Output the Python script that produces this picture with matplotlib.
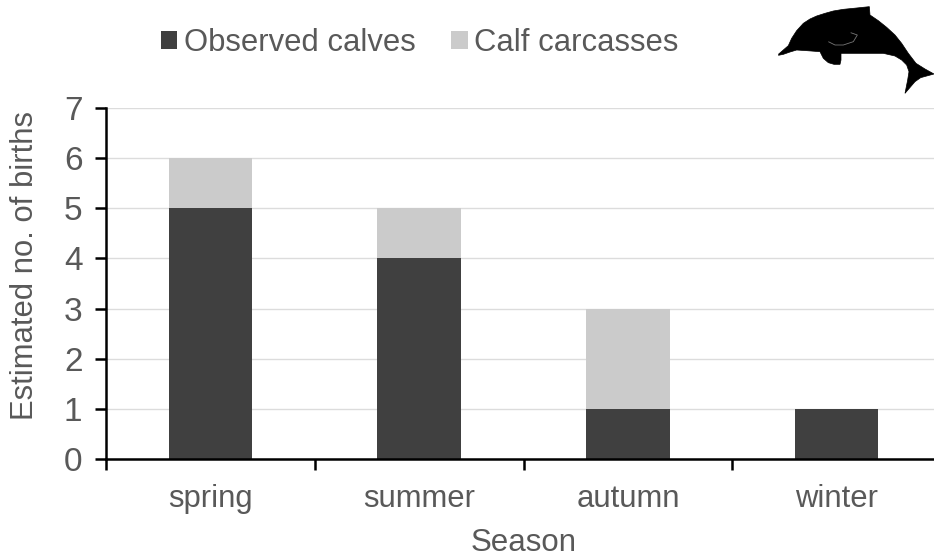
import numpy as np
import matplotlib.pyplot as plt
from matplotlib.patches import PathPatch
from matplotlib.path import Path
from matplotlib.transforms import Affine2D

seasons = ['spring', 'summer', 'autumn', 'winter']
observed = [5, 4, 1, 1]
carcasses = [1, 1, 2, 0]

W, H = 934, 557
GREY = '#595959'
plt.rcParams['font.family'] = ['Liberation Sans', 'DejaVu Sans']

fig = plt.figure(figsize=(W/100, H/100), dpi=100)
# axes run a little past the right edge of the picture, like the cropped original
ax = fig.add_axes([106/W, 1-459/H, 835/W, 351/H])

x = np.arange(len(seasons))
ax.bar(x, observed, width=0.4, color='#404040', label='Observed calves', zorder=2)
ax.bar(x, carcasses, width=0.4, bottom=observed, color='#cbcbcb', label='Calf carcasses', zorder=2)

ax.set_xlim(-0.5, 3.5)
ax.set_ylim(0, 7)
ax.yaxis.grid(True, color='#dcdcdc', lw=1.0, zorder=0)
ax.set_axisbelow(True)

for s in ['top', 'right']:
    ax.spines[s].set_visible(False)
for s in ['left', 'bottom']:
    ax.spines[s].set_linewidth(1.8)
    ax.spines[s].set_color('black')

ax.set_xticks(x, seasons)
ax.set_xticks(np.arange(-0.5, 3.5), minor=True)
ax.tick_params(axis='x', which='major', length=0, labelsize=22.3, labelcolor=GREY, pad=18)
ax.tick_params(axis='x', which='minor', length=8, width=1.8, direction='out')
ax.tick_params(axis='y', length=8, width=1.8, labelsize=24, labelcolor=GREY, pad=9)
ax.set_yticks(range(8))

fig.text(524/W, 1-543/H, 'Season', color=GREY, fontsize=22.5, ha='center', va='center')
fig.text(25/W, 1-266/H, 'Estimated no. of births', color=GREY, fontsize=22.3,
         rotation=90, ha='center', va='center')

leg = fig.legend(loc='center', bbox_to_anchor=(420/W, 1-43/H), ncol=2, frameon=False,
                 fontsize=22.3, labelcolor=GREY, handlelength=0.52, handleheight=0.52,
                 handletextpad=0.22, columnspacing=1.15)

# dolphin silhouette, outline traced in pixels of the picture
outline = [(55,163),(70,150),(85,137),(95,115),(110,92),(130,70),(150,57),(170,48),(195,40),
           (220,33),(250,28),(290,24),(328,20),(330,45),(355,62),(380,82),(405,105),(425,130),
           (445,160),(468,190),(495,207),(522,222),(500,228),(482,233),(465,245),(435,280),
           (443,240),(447,215),(440,195),(425,180),(405,168),(370,160),(243,160),(243,180),
           (240,193),(222,193),(205,188),(190,175),(180,155),(140,152),(110,150),(90,156),
           (70,163),(55,166)]
to_fig = Affine2D().scale(1/3).translate(760, 0).scale(1, -1).translate(0, H)
fig.add_artist(PathPatch(Path(outline), fc='black', ec='black', lw=0.5,
                         transform=to_fig))
flipper = [(205,125),(225,135),(250,135),(280,125),(292,105),(272,98)]
fig.add_artist(PathPatch(Path(flipper), fc='none', ec='#777777', lw=0.6,
                         transform=to_fig))

fig.savefig('out.png', dpi=100)
